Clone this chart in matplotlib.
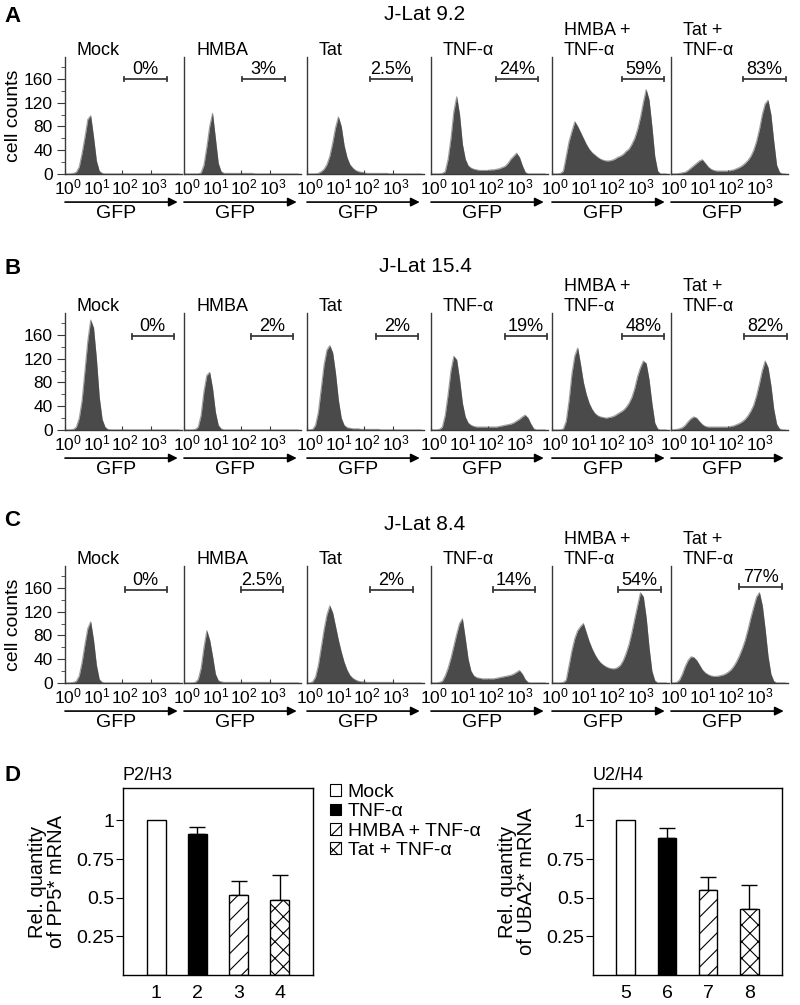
import numpy as np
import matplotlib
matplotlib.use('Agg')
import matplotlib.pyplot as plt
from matplotlib.patches import Patch
from matplotlib.transforms import ScaledTranslation

plt.rcParams['font.family'] = ['Liberation Sans', 'DejaVu Sans']
plt.rcParams['mathtext.fontset'] = 'custom'
plt.rcParams['mathtext.rm'] = 'Liberation Sans'
plt.rcParams['hatch.linewidth'] = 0.8

# ---------------- data ----------------
# histogram bins: log10(GFP) from 0 to 4 in 0.1 steps
GFP_LOG = [round(0.1 * i, 1) for i in range(41)]

ROW_TITLES = ['J-Lat 9.2', 'J-Lat 15.4', 'J-Lat 8.4']
ROW_LETTERS = ['A', 'B', 'C']
CONDITIONS = ['Mock', 'HMBA', 'Tat', 'TNF-α', 'HMBA +\nTNF-α', 'Tat +\nTNF-α']

A_mock = [0,0,0,1,3,12,35,62,92,98,62,22,5,1] + [0]*27
A_hmba = [0,0,0,0,0,0,2,15,45,80,102,60,18,4,1] + [1]*10 + [0]*16
A_tat = [0,0,0,0,1,4,8,16,30,52,78,96,80,48,28,16,10,6,4,3,2] + [1]*8 + [0]*12
A_tnf = [0,0,0,0,1,4,25,60,105,130,100,50,25,14,10,8,7,6,6,6,6,7,7,8,9,11,13,18,25,30,35,28,14,3] + [0]*7
A_hmba_tnf = [0,0,0,1,5,30,55,72,88,80,70,60,50,42,36,32,28,25,23,22,22,23,25,28,30,33,38,42,50,60,75,95,120,142,125,80,30,5,0,0,0]
A_tat_tnf = [0,0,0,1,2,3,6,10,14,18,22,24,18,12,8,6,5,5,5,5,5,6,7,9,11,14,18,23,30,40,55,75,100,118,124,100,55,15,3,0,0]

B_mock = [0,0,0,1,5,20,50,100,150,185,172,120,55,18,5,1] + [0]*25
B_hmba = [0,0,0,0,1,5,25,65,92,97,70,30,8,2] + [0]*27
B_tat = [0,0,1,8,30,70,110,135,142,130,95,50,20,8,4,3,2,2,2] + [1]*7 + [0]*15
B_tnf = [0,0,0,1,5,25,60,100,124,118,85,45,22,12,8,6,5,5,5,5,5,5,5,5,6,7,8,9,10,12,15,18,22,25,20,10,2] + [0]*4
B_hmba_tnf = [0,0,0,0,2,15,50,95,125,138,110,80,60,45,35,28,24,22,21,20,21,22,24,27,30,33,38,45,55,70,90,105,116,112,85,45,12,2,0,0,0]
B_tat_tnf = [0,0,1,2,4,8,14,19,22,20,14,9,6,5,5,5,5,5,5,5,5,6,7,9,11,14,18,24,32,42,58,78,100,116,105,75,35,10,2,0,0]

C_mock = [0,0,0,1,3,12,35,65,92,103,72,30,6,1] + [0]*27
C_hmba = [0,0,0,0,1,6,25,60,88,72,45,15,4,2] + [1]*17 + [0]*10
C_tat = [0,0,2,10,30,60,90,115,130,118,95,72,52,35,22,13,8,5,3,2,2] + [1]*10 + [0]*10
C_tnf = [0,0,0,1,3,12,25,42,62,82,100,108,75,40,20,12,9,8,7,7,7,7,7,8,9,10,11,12,13,15,18,21,15,6,1] + [0]*6
C_hmba_tnf = [0,0,0,0,1,5,30,55,75,88,95,100,85,70,58,48,40,34,30,27,25,24,24,26,30,38,50,65,85,108,130,152,145,110,60,20,4,0,0,0,0]
C_tat_tnf = [0,0,1,5,15,28,38,44,43,38,30,22,17,14,12,11,11,12,13,15,18,22,28,36,46,58,72,90,110,128,145,152,130,90,45,15,3,0,0,0,0]

HISTS = [[A_mock, A_hmba, A_tat, A_tnf, A_hmba_tnf, A_tat_tnf],
         [B_mock, B_hmba, B_tat, B_tnf, B_hmba_tnf, B_tat_tnf],
         [C_mock, C_hmba, C_tat, C_tnf, C_hmba_tnf, C_tat_tnf]]

# gates (log10 GFP) and percentages of GFP+ cells
GATES = [[(2.07, 3.58), (2.03, 3.54), (2.21, 3.68), (2.28, 3.75), (2.46, 3.93), (2.53, 4.03)],
         [(2.34, 3.81), (2.34, 3.82), (2.41, 3.88), (2.60, 4.07), (2.46, 3.93), (2.57, 4.07)],
         [(2.09, 3.57), (1.99, 3.46), (2.21, 3.72), (2.17, 3.65), (2.33, 3.82), (2.40, 3.90)]]
GATE_LEVEL = [[160]*6, [158]*6, [157, 157, 157, 157, 157, 162]]
PERCENTS = [['0%', '3%', '2.5%', '24%', '59%', '83%'],
            ['0%', '2%', '2%', '19%', '48%', '82%'],
            ['0%', '2.5%', '2%', '14%', '54%', '77%']]

# panel D
BAR_LABELS_L = ['1', '2', '3', '4']
BAR_LABELS_R = ['5', '6', '7', '8']
PP5_VALUES = [1.0, 0.91, 0.52, 0.485]
PP5_ERR = [0.0, 0.05, 0.09, 0.165]
UBA2_VALUES = [1.0, 0.885, 0.55, 0.425]
UBA2_ERR = [0.0, 0.065, 0.085, 0.155]
LEGEND_LABELS = ['Mock', 'TNF-α', 'HMBA + TNF-α', 'Tat + TNF-α']

# ---------------- layout ----------------
W, H = 800, 1005
fig = plt.figure(figsize=(8, 10.05), dpi=100)


def rect(x0, y0, x1, y1):
    return [x0 / W, 1 - y1 / H, (x1 - x0) / W, (y1 - y0) / H]


ROW_BASE = [174, 430, 683]
PANEL_X = [65, 184, 307, 431, 552, 671]
PW, PH = 117, 117
ROW_TITLE_Y = [15, 267, 525]
LETTER_Y = [16, 268, 520]

FILL = '#4a4a4a'
EDGE = '#a0a0a0'
AXC = '#3a3a3a'
shift = ScaledTranslation(3 / 100, 0, fig.dpi_scale_trans)

for r in range(3):
    yb = ROW_BASE[r]
    fig.text(425 / W, 1 - ROW_TITLE_Y[r] / H, ROW_TITLES[r], ha='center', va='center', fontsize=15)
    fig.text(4 / W, 1 - LETTER_Y[r] / H, ROW_LETTERS[r], ha='left', va='center',
             fontsize=16, fontweight='bold')
    for c in range(6):
        x0 = PANEL_X[c]
        ax = fig.add_axes(rect(x0, yb - PH, x0 + PW, yb))
        counts = HISTS[r][c]
        ax.fill_between(GFP_LOG, 0, counts, color=FILL, lw=0, zorder=2)
        ax.plot(GFP_LOG, counts, color=EDGE, lw=0.8, zorder=1)
        ax.set_xlim(0, 4.1)
        ax.set_ylim(0, 197)
        for s in ['top', 'right']:
            ax.spines[s].set_visible(False)
        for s in ['left', 'bottom']:
            ax.spines[s].set_color(AXC)
            ax.spines[s].set_linewidth(1.0)
        ax.set_xticks([0, 1, 2, 3])
        ax.set_xticklabels([r'$\mathregular{10^{%d}}$' % k for k in range(4)], fontsize=12.5)
        ax.tick_params(axis='x', direction='in', length=3, pad=2.5, color=AXC)
        for lab in ax.get_xticklabels():
            lab.set_transform(lab.get_transform() + shift)
        if c == 0:
            ax.set_yticks([0, 40, 80, 120, 160])
            ax.set_yticks([20, 60, 100, 140, 180], minor=True)
            ax.tick_params(axis='y', which='major', direction='out', length=6, pad=3,
                           labelsize=12.5, color=AXC)
            ax.tick_params(axis='y', which='minor', direction='out', length=3, color=AXC)
            if r != 1:
                ax.set_ylabel('cell counts', fontsize=14, labelpad=1)
        else:
            ax.set_yticks([])
        # gate
        lo, hi = GATES[r][c]
        gy = GATE_LEVEL[r][c]
        ax.plot([lo, hi], [gy, gy], color=AXC, lw=1.3, clip_on=False)
        ax.plot([lo, lo], [gy - 4, gy + 4], color=AXC, lw=1.3, clip_on=False)
        ax.plot([hi, hi], [gy - 4, gy + 4], color=AXC, lw=1.3, clip_on=False)
        ax.text((lo + hi) / 2, gy + 8, PERCENTS[r][c], ha='center', va='baseline', fontsize=13)
        # condition title
        ax.text(12 / PW, 1.021, CONDITIONS[c], transform=ax.transAxes, ha='left', va='baseline',
                fontsize=13, linespacing=1.2)
        # GFP arrow
        ax.annotate('', xy=(3.95, -0.24), xytext=(0, -0.24),
                    xycoords=ax.get_xaxis_transform(), textcoords=ax.get_xaxis_transform(),
                    arrowprops=dict(arrowstyle='-|>', lw=1.2, color='black', mutation_scale=13,
                                    shrinkA=0, shrinkB=0), annotation_clip=False)
        ax.text(0.44, -0.335, 'GFP', transform=ax.transAxes, ha='center', va='center', fontsize=14)

# ---------------- panel D ----------------
fig.text(4 / W, 1 - 775 / H, 'D', ha='left', va='center', fontsize=16, fontweight='bold')

FACES = ['white', 'black', 'white', 'white']
HATCHES = [None, None, '//', 'xx']


def bar_panel(box, values, errs, labels, title, ylabel):
    ax = fig.add_axes(rect(*box))
    pos = [1, 2, 3, 4]
    for p, v, fc, h in zip(pos, values, FACES, HATCHES):
        ax.bar(p, v, width=0.46, color=fc, edgecolor='black', linewidth=1.0, hatch=h, zorder=2)
    ax.errorbar(pos[1:], values[1:], yerr=[[0] * 3, errs[1:]], fmt='none', ecolor='black',
                elinewidth=1.0, capsize=6, capthick=1.0, zorder=1)
    ax.set_xlim(0.2, 4.8)
    ax.set_ylim(0, 1.21)
    ax.set_xticks(pos)
    ax.set_xticklabels(labels, fontsize=14)
    ax.tick_params(axis='x', length=0, pad=7)
    ax.set_yticks([0.25, 0.5, 0.75, 1])
    ax.set_yticklabels(['0.25', '0.5', '0.75', '1'], fontsize=14)
    ax.tick_params(axis='y', direction='out', length=5, pad=1)
    for s in ax.spines.values():
        s.set_linewidth(1.0)
    ax.set_ylabel(ylabel, fontsize=14.5, linespacing=1.0, labelpad=8)
    ax.text(0.0, 1.02, title, transform=ax.transAxes, ha='left', va='bottom', fontsize=13)
    return ax


bar_panel((123, 788, 313, 975), PP5_VALUES, PP5_ERR, BAR_LABELS_L, 'P2/H3',
          'Rel. quantity\nof PP5* mRNA')
bar_panel((593, 788, 782, 975), UBA2_VALUES, UBA2_ERR, BAR_LABELS_R, 'U2/H4',
          'Rel. quantity\nof UBA2* mRNA')

handles = [Patch(facecolor=fc, edgecolor='black', hatch=h, linewidth=0.8) for fc, h in zip(FACES, HATCHES)]
fig.legend(handles, LEGEND_LABELS, loc='upper left', bbox_to_anchor=(330 / W, 1 - 784 / H),
           frameon=False, fontsize=14, handlelength=0.55, handleheight=0.55, handletextpad=0.35,
           labelspacing=0.12, borderaxespad=0, borderpad=0)

fig.savefig('out.png', dpi=100)
